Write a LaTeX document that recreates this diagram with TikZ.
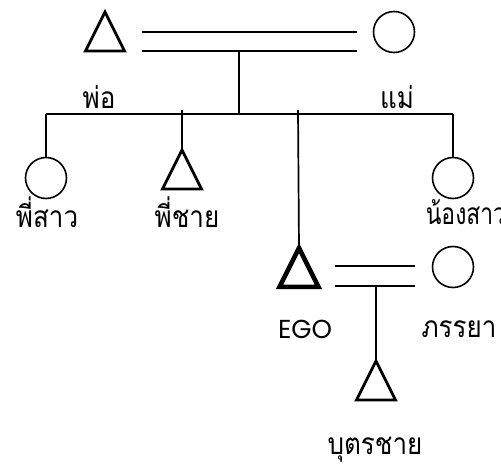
\documentclass[tikz,border=0pt]{standalone}
\usepackage{fontspec}
\newfontfamily\thai[Script=Thai]{Loma}
\newfontfamily\egofont{Poppins}
\newcommand{\thtxt}[1]{\scalebox{1}[1.15]{\thai\fontsize{26}{28}\selectfont #1}}
\begin{document}
\begin{tikzpicture}[x=1pt,y=-1pt,line width=1.7pt,
  female/.style={draw,circle,minimum size=41pt,inner sep=0pt,line width=1.6pt},
  lbl/.style={inner sep=0pt},
  egolbl/.style={font=\egofont\fontsize{26}{28}\selectfont,inner sep=0pt},
  pics/male/.style={code={
    \draw[line width=#1,line join=miter] (-19.5,0) -- (0,-39) -- (19.5,0) -- cycle;
    \coordinate (-apex) at (0,-39);
  }}]
\useasboundingbox[fill=white] (0,0) rectangle (501,473);
% parents
\pic (fa) at (105,51) {male=2.8pt};
\node[female] (mo) at (394,32) {};
\coordinate (m1a) at (142,32); \coordinate (m1b) at (357,32);
\coordinate (m2a) at (142,51); \coordinate (m2b) at (357,51);
\draw (m1a) -- (m1b);
\draw (m2a) -- (m2b);
\coordinate (d1) at (239,51); \coordinate (d2) at (239,114);
\draw (d1) -- (d2);
\coordinate (sl) at (46,114); \coordinate (sr) at (453,114);
\draw (sl) -- (sr);
\node[lbl] (tfa) at (99,97) {\thtxt{พ่อ}};
\node[lbl] (tmo) at (397,97) {\thtxt{แม่}};
% siblings
\node[female] (s1) at (46,178) {};
\draw (sl) -- (s1.north);
\pic (b1) at (182,189) {male=2.8pt};
\coordinate (b1t) at (182,110);
\draw (b1t) -- (b1-apex);
\pic (ego) at (299,287) {male=4.5pt};
\coordinate (egot) at (298,110);
\draw (egot) -- (ego-apex);
\node[female] (s2) at (453,178) {};
\draw (sr) -- (s2.north);
\node[lbl] (ts1) at (47,212) {\thtxt{พี่สาว}};
\node[lbl] (tb1) at (187,212) {\thtxt{พี่ชาย}};
\node[lbl,anchor=west] (ts2) at (425,212) {\scalebox{0.88}[1]{\thtxt{น้องสาว}}};
% ego marriage
\node[female] (wi) at (453,267) {};
\coordinate (e1a) at (335,266); \coordinate (e1b) at (415,266);
\coordinate (e2a) at (335,286); \coordinate (e2b) at (415,286);
\draw (e1a) -- (e1b);
\draw (e2a) -- (e2b);
\pic (son) at (376,400) {male=2.8pt};
\coordinate (c1) at (376,286);
\draw (c1) -- (son-apex);
\node[egolbl] (tego) at (305,329) {EGO};
\node[lbl] (twi) at (459,329) {\thtxt{ภรรยา}};
\node[lbl] (tson) at (375,450) {\thtxt{บุตรชาย}};
\end{tikzpicture}
\end{document}
